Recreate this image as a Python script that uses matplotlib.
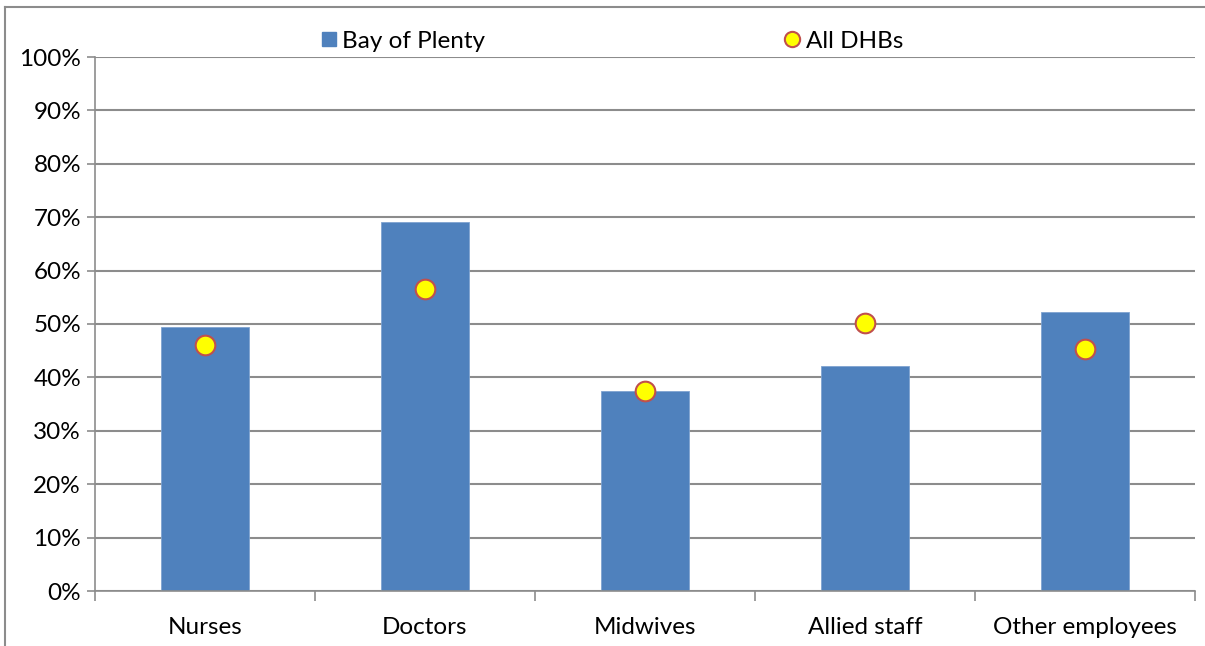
import numpy as np
import matplotlib.pyplot as plt
from matplotlib.lines import Line2D
from matplotlib.ticker import FuncFormatter

categories = ["Nurses", "Doctors", "Midwives", "Allied staff", "Other employees"]
bay_of_plenty = [49.5, 69.1, 37.5, 42.2, 52.2]
all_dhbs = [46.1, 56.6, 37.5, 50.1, 45.4]
y_ticks = list(range(0, 101, 10))

plt.rcParams['font.family'] = ['Lato', 'DejaVu Sans']

W, H = 1205, 646
fig = plt.figure(figsize=(W / 100, H / 100), dpi=100)
ax = fig.add_axes([95 / W, 1 - 591 / H, 1100 / W, 534 / H])

x = np.arange(len(categories))
ax.bar(x, bay_of_plenty, width=0.4, color="#4F81BD", edgecolor="#7FA3D0",
       linewidth=0.6, zorder=2)
ax.scatter(x, all_dhbs, s=200, c="#FFFF00", edgecolors="#C0504D",
           linewidths=1.5, zorder=3)

ax.set_xlim(-0.5, len(categories) - 0.5)
ax.set_ylim(0, 100)
ax.set_yticks(y_ticks)
ax.yaxis.set_major_formatter(FuncFormatter(lambda v, p: f"{v:.0f}%"))
ax.yaxis.grid(True, color="#8C8C8C", linewidth=1.5, zorder=0)
ax.set_axisbelow(True)

ax.set_xticks(x)
ax.set_xticklabels(categories)
ax.set_xticks(np.arange(len(categories) + 1) - 0.5, minor=True)
ax.tick_params(axis="x", which="major", length=0, pad=19, labelsize=17.5)
ax.tick_params(axis="x", which="minor", length=7, width=1.2, color="#8C8C8C")
ax.tick_params(axis="y", length=6, width=1.2, color="#8C8C8C", labelsize=17.5, pad=4)

for side in ["top", "right"]:
    ax.spines[side].set_visible(False)
for side in ["left", "bottom"]:
    ax.spines[side].set_color("#8C8C8C")
    ax.spines[side].set_linewidth(1.2)

handles = [
    Line2D([], [], marker="s", linestyle="none", markersize=10,
           markerfacecolor="#4F81BD", markeredgecolor="#4F81BD"),
    Line2D([], [], marker="o", linestyle="none", markersize=11,
           markerfacecolor="#FFFF00", markeredgecolor="#C0504D", markeredgewidth=1.5),
]
ax.legend(handles, ["Bay of Plenty", "All DHBs"], loc="lower left",
          bbox_to_anchor=(225 / 1100, 1.005), ncol=2, frameon=False,
          fontsize=17.5, handlelength=0.5, handletextpad=0.3, columnspacing=12.4,
          borderaxespad=0.0, borderpad=0.1)

# outer frame (top and left)
fig.add_artist(Line2D([5 / W, 1], [1 - 7 / H, 1 - 7 / H], color="#8C8C8C", linewidth=1.5))
fig.add_artist(Line2D([5 / W, 5 / W], [0, 1 - 7 / H], color="#8C8C8C", linewidth=1.5))

fig.savefig("out.png", dpi=100)
